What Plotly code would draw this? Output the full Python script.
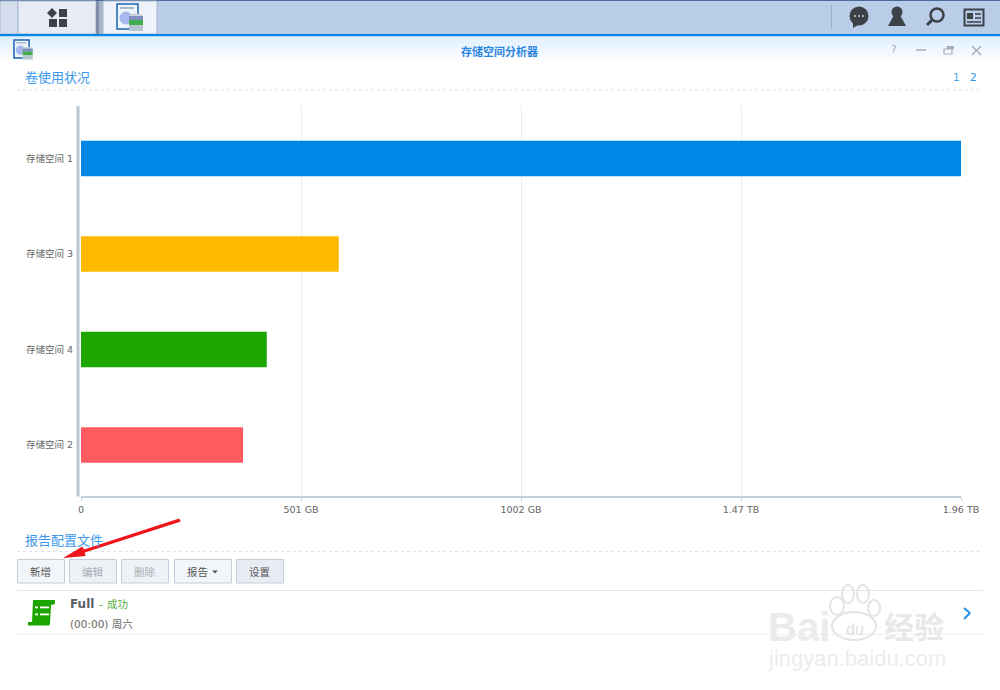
import plotly.graph_objects as go

# Dades del grafic
categories = ["存储空间 1", "存储空间 3", "存储空间 4", "存储空间 2"]
used_gb = [2004, 587, 423, 369]
bar_colors = ["#0086e5", "#ffba00", "#1ea600", "#ff5a5f"]
tick_vals = [0, 501, 1002, 1503, 2004]
tick_text = ["0", "501 GB", "1002 GB", "1.47 TB", "1.96 TB"]

W, H = 1000, 690
FONT = "DejaVu Sans, Noto Sans CJK SC, sans-serif"
CJK = "Noto Sans CJK SC, sans-serif"


def px(x):
    return x / W


def py(y):
    return 1 - y / H


shapes = []
notes = []


def rect(x0, y0, x1, y1, fill, line=None, lw=1):
    shapes.append(dict(type="rect", xref="paper", yref="paper", x0=px(x0), x1=px(x1), y0=py(y0), y1=py(y1),
                       fillcolor=fill, line=dict(color=line or "rgba(0,0,0,0)", width=lw if line else 0),
                       layer="below"))


def hline(x0, x1, y, color, dash="solid", lw=1):
    shapes.append(dict(type="line", xref="paper", yref="paper", x0=px(x0), x1=px(x1), y0=py(y), y1=py(y),
                       line=dict(color=color, width=lw, dash=dash), layer="below"))


def seg(x0, y0, x1, y1, color, lw=1.5):
    shapes.append(dict(type="line", xref="paper", yref="paper", x0=px(x0), x1=px(x1), y0=py(y0), y1=py(y1),
                       line=dict(color=color, width=lw), layer="below"))


def ellipse(cx, cy, rx, ry, fill, line=None, lw=1):
    shapes.append(dict(type="circle", xref="paper", yref="paper", x0=px(cx - rx), x1=px(cx + rx),
                       y0=py(cy + ry), y1=py(cy - ry), fillcolor=fill,
                       line=dict(color=line or "rgba(0,0,0,0)", width=lw if line else 0), layer="below"))


def circle(cx, cy, r, fill, line=None, lw=1):
    ellipse(cx, cy, r, r, fill, line, lw)


def poly(points, fill):
    d = "M " + " L ".join(f"{px(x):.4f},{py(y):.4f}" for x, y in points) + " Z"
    shapes.append(dict(type="path", xref="paper", yref="paper", path=d, fillcolor=fill,
                       line=dict(width=0), layer="below"))


def text(x, y, s, size=11, color="#555", anchor="left", family=CJK, bold=False):
    notes.append(dict(xref="paper", yref="paper", x=px(x), y=py(y), text=f"<b>{s}</b>" if bold else s,
                      showarrow=False, xanchor=anchor, yanchor="middle", borderpad=0,
                      font=dict(size=size, color=color, family=family)))


# Barra superior
rect(0, 0, 1000, 34, "#b9cce8")
hline(0, 1000, 0.5, "#4a6a9c")
rect(0, 1, 18, 34, "#d5deee", "#a9b6cc")
rect(18, 1, 96, 34, "#e6ebf4", "#a9b6cc")
rect(96, 1, 99, 34, "#7f8ea8")
rect(99, 1, 103, 34, "#a8b6cc")
rect(103, 1, 157, 34, "#eef2f9", "#a9b6cc")
rect(0, 34, 1000, 36.5, "#0a86e6")

# Degradat de la finestra
for i in range(13):
    t = i / 12
    r = int(220 + 35 * t)
    g = int(238 + 17 * t)
    rect(0, 36.5 + i * 2, 1000, 38.5 + i * 2, f"rgb({r},{g},255)")

# Icona de menu
poly([(52, 8), (57, 13), (52, 18), (47, 13)], "#3d4248")
rect(59, 9, 67, 17, "#3d4248")
rect(49, 19, 57, 27, "#3d4248")
rect(59, 19, 67, 27, "#3d4248")


# Icona de l'aplicacio
def app_icon(x, y, s):
    rect(x, y, x + 21 * s, y + 25 * s, "#eef4fb", "#1c64b4", 1.5)
    rect(x + 3 * s, y + 3 * s, x + 17 * s, y + 5 * s, "#a8b8cc")
    ellipse(x + 9 * s, y + 14 * s, 6.5 * s, 6.5 * s, "#a5b9ee")
    ellipse(x + 19 * s, y + 12 * s, 7 * s, 2.5 * s, "#c9d3dc")
    rect(x + 12 * s, y + 12 * s, x + 26 * s, y + 16 * s, "#7f90c0")
    rect(x + 12 * s, y + 16 * s, x + 26 * s, y + 21 * s, "#42ad4a")
    rect(x + 12 * s, y + 21 * s, x + 26 * s, y + 27 * s, "#b4c4d0")


app_icon(117, 4, 1)
app_icon(14, 40, 0.72)

# Icones de la dreta
seg(831.5, 5, 831.5, 29, "#9db0cc", 1)
circle(859, 16, 9.5, "#3d4248")
poly([(853, 23), (860, 24), (853, 28)], "#3d4248")
for cx in (855, 859, 863):
    circle(cx, 16, 1, "#c5d2e6")
circle(897, 12, 5.5, "#3d4248")
poly([(894, 15), (900, 15), (906, 26), (888, 26)], "#3d4248")
circle(937, 15, 6.5, "rgba(0,0,0,0)", "#3d4248", 2.5)
seg(932, 20, 927, 25, "#3d4248", 3)
rect(964.5, 9.5, 983.5, 25.5, "rgba(0,0,0,0)", "#3d4248", 2)
rect(967, 13, 973, 19, "#3d4248")
seg(975, 14, 981, 14, "#3d4248", 1.5)
seg(975, 18, 981, 18, "#3d4248", 1.5)
seg(967, 22, 981, 22, "#3d4248", 1.5)

# Controls de finestra
text(893.5, 50, "?", 11, "#a5adb5", "center", FONT)
seg(916, 50, 926, 50, "#a5adb5", 1.5)
rect(944, 49, 952, 54, "rgba(0,0,0,0)", "#a5adb5", 1.2)
rect(947, 46, 954, 49, "#a5adb5")
seg(972, 46, 981, 55, "#a5adb5", 1.5)
seg(981, 46, 972, 55, "#a5adb5", 1.5)

# Titols i separadors
text(499.5, 50.5, "存储空间分析器", 11, "#2b85e0", "center", bold=True)
text(23.5, 77, "卷使用状况", 13, "#3c98ec")
text(956.5, 77, "1", 10.5, "#4aa3f2", "center", FONT)
text(973.5, 77, "2", 10.5, "#2b8fe8", "center", FONT)
hline(17, 983, 90, "#dfe3e8", "dot")

text(23.5, 539, "报告配置文件", 13, "#3c98ec")
hline(17, 983, 551.5, "#dfe3e8", "dot")
hline(17, 983, 590.5, "#dfe6ee")
hline(17, 983, 634.5, "#eef1f4")

# Botons
buttons = [(17, 64, "新增", "#555", "#f2f5f9", None), (69, 116, "编辑", "#a8aeb5", "#eef1f5", None),
           (121, 168, "删除", "#a8aeb5", "#eef1f5", None), (174, 231, "报告", "#555", "#f2f5f9", 197),
           (236, 283, "设置", "#555", "#e9edf3", None)]
for x0, x1, label, col, bg, cx in buttons:
    rect(x0 + 0.5, 559.5, x1 + 0.5, 583, bg, "#c5ced8", 1)
    text(cx or (x0 + x1) / 2, 571.5, label, 10.5, col, "center")
poly([(212, 570.5), (218, 570.5), (215, 573.5)], "#555")

# Fila de l'informe
poly([(33, 600), (55, 600), (55, 604), (51, 605), (50, 624), (49, 625.5), (28, 625.5), (28, 622), (32, 622)],
     "#1ea600")
for yy in (606.5, 613.5):
    rect(35, yy, 38, yy + 1.8, "#ffffff")
    rect(40, yy, 49, yy + 1.8, "#ffffff")
text(69, 603.5, "Full", 12, "#5a5f66", family=FONT, bold=True)
text(97.5, 603.5, "- ", 10.5, "#3aa53a", family=FONT)
text(105.5, 603.5, "成功", 10.5, "#55b040")
text(69, 623.5, "(00:00) 周六", 10.5, "#666", family=FONT)
seg(964, 608, 970, 613, "#1f8fea", 2)
seg(970, 613, 964, 619, "#1f8fea", 2)

# Eix vertical gruixut
rect(76.5, 106, 79.5, 496.5, "#bcc6d2")

# Marca d'aigua
WM = "#e4e4e4"
text(767, 627, "Bai", 40, "#ebebeb", family="Liberation Sans", bold=True)
ellipse(854, 626, 22, 14, "rgba(255,255,255,0)", WM, 2)
for cx, cy, rx, ry in [(837, 606, 7, 9), (848, 594, 6, 9), (863, 594, 6, 9), (874, 608, 6, 8)]:
    ellipse(cx, cy, rx, ry, "rgba(255,255,255,0)", WM, 2)
text(855, 629, "du", 16, "#dedede", "center", "Liberation Sans")
text(883, 625, "经验", 30, "#e8e8e8", family=CJK, bold=True)
text(767, 658, "jingyan.baidu.com", 22, "#ececec", family="Liberation Sans")

# Fletxa vermella, afilada cap a la cua
poly([(180.8, 521.6), (179.2, 518.4), (84, 549.4), (82.4, 546.4), (63, 558), (85.4, 556), (84.8, 552.6)],
     "#f0141a")

fig = go.Figure(go.Bar(y=categories, x=used_gb, orientation="h", marker=dict(color=bar_colors, line=dict(width=0)),
                       showlegend=False, hoverinfo="x+y"))

fig.update_xaxes(domain=[px(81), px(961)], range=[0, 2004], tickvals=tick_vals, ticktext=tick_text, showgrid=True,
                 gridcolor="#e9eef4", gridwidth=1, zeroline=False, showline=True, linecolor="#c5cfdb", linewidth=1.5,
                 ticks="outside", ticklen=4, tickcolor="#c5cfdb", tickfont=dict(size=9.5, color="#666", family=FONT))
fig.update_yaxes(domain=[py(495.5), py(106)], type="category", categoryorder="array", categoryarray=categories,
                 range=[3.529, -0.55], showgrid=False, zeroline=False, showline=False, ticks="outside", ticklen=5,
                 tickcolor="rgba(0,0,0,0)", tickfont=dict(size=9.5, color="#666", family=FONT))
fig.update_layout(width=W, height=H, margin=dict(l=0, r=0, t=0, b=0, autoexpand=False), paper_bgcolor="white",
                  plot_bgcolor="rgba(0,0,0,0)", bargap=0.63, shapes=shapes, annotations=notes)

# Trec el marge del body perque la figura ocupi tota la finestra
fig.write_html("out.html", config={"displayModeBar": False},
               post_script="document.body.style.margin='0';document.documentElement.style.overflow='hidden';")
